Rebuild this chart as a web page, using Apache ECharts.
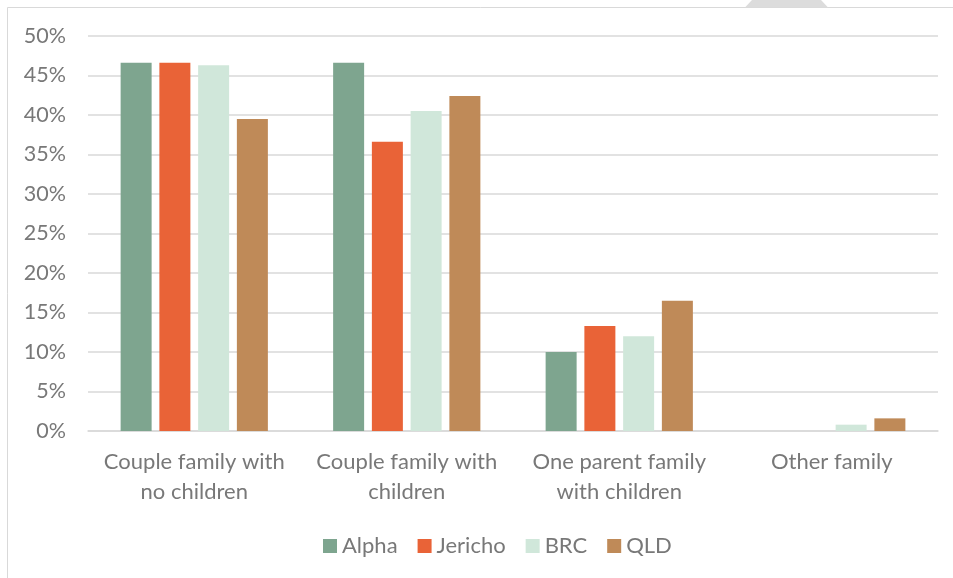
<!DOCTYPE html>
<html>
<head>
<meta charset="utf-8">
<style>
  html, body { margin: 0; padding: 0; background: #ffffff; }
  #chart { width: 953px; height: 578px; }
</style>
<script src="https://cdn.jsdelivr.net/npm/echarts@6/dist/echarts.min.js"></script>
</head>
<body>
<div id="chart"></div>
<script>
// Family composition by region (share of families, %)
const categories = [
  'Couple family with\nno children',
  'Couple family with\nchildren',
  'One parent family\nwith children',
  'Other family'
];
const seriesNames = ['Alpha', 'Jericho', 'BRC', 'QLD'];
const alpha   = [46.6, 46.6, 10.0, 0.0];
const jericho = [46.6, 36.6, 13.3, 0.0];
const brc     = [46.3, 40.5, 12.0, 0.8];
const qld     = [39.5, 42.4, 16.5, 1.6];
const yTicks  = { min: 0, max: 50, interval: 5 };

const colors = ['#7ea58f', '#e96337', '#d0e7da', '#bf8a58'];
const textColor = '#787878';
const gridColor = '#d9d9d9';
const font = 'Lato, "Noto Sans", sans-serif';

const values = [alpha, jericho, brc, qld];

const chart = echarts.init(document.getElementById('chart'), null, { renderer: 'canvas' });
chart.setOption({
  animation: false,
  backgroundColor: '#ffffff',
  color: colors,
  textStyle: { fontFamily: font },
  graphic: [
    {
      type: 'rect',
      shape: { x: 7.5, y: 7.5, width: 960, height: 600 },
      style: { fill: 'none', stroke: '#d9d9d9', lineWidth: 1 },
      silent: true
    },
    {
      type: 'polygon',
      shape: { points: [[745, 7.5], [752, 0], [821, 0], [828, 7.5]] },
      style: { fill: '#dcdcdc' },
      silent: true
    }
  ],
  grid: { left: 88, right: 15, top: 36, bottom: 147, containLabel: false },
  legend: {
    top: 530,
    left: 318,
    itemWidth: 14,
    itemHeight: 14,
    itemGap: 20,
    icon: 'rect',
    textStyle: { color: textColor, fontSize: 22, fontFamily: font },
    data: seriesNames
  },
  xAxis: {
    type: 'category',
    data: categories,
    axisTick: { show: false },
    axisLine: { lineStyle: { color: gridColor, width: 1.5 } },
    axisLabel: {
      color: textColor,
      fontSize: 22,
      lineHeight: 30,
      margin: 16,
      interval: 0,
      fontFamily: font
    }
  },
  yAxis: {
    type: 'value',
    min: yTicks.min,
    max: yTicks.max,
    interval: yTicks.interval,
    axisLine: { show: false },
    axisTick: { show: false },
    splitLine: { lineStyle: { color: gridColor, width: 1.5 } },
    axisLabel: {
      color: textColor,
      fontSize: 21.5,
      margin: 22,
      formatter: v => v + '%',
      fontFamily: font
    }
  },
  series: seriesNames.map((name, i) => ({
    name: name,
    type: 'bar',
    data: values[i],
    barWidth: 31,
    barGap: '25%',
    itemStyle: { color: colors[i] }
  }))
});
</script>
</body>
</html>
